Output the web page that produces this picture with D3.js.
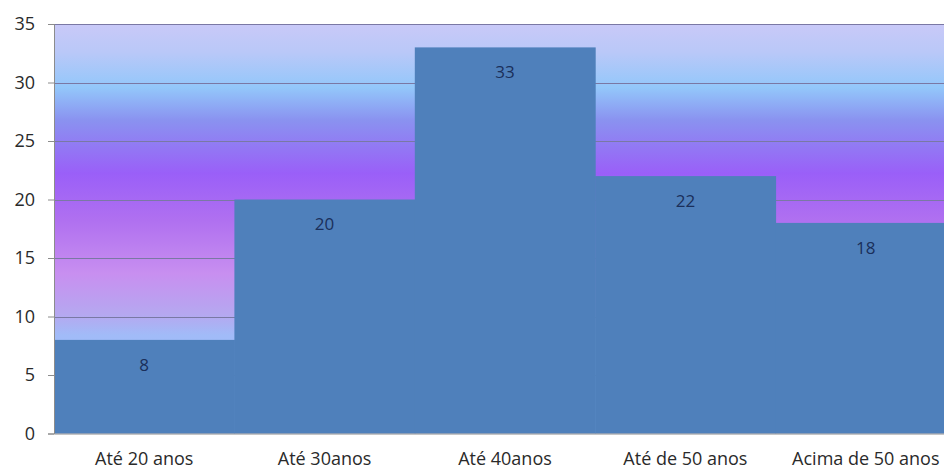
<!DOCTYPE html>
<html><head><meta charset="utf-8">
<script src="https://cdn.jsdelivr.net/npm/d3@7"></script>
<style>body{margin:0;background:#fff;overflow:hidden}svg{display:block}</style>
</head><body>
<script>
const categories = ["Até 20 anos", "Até 30anos", "Até 40anos", "Até de 50 anos", "Acima de 50 anos"];
const values = [8, 20, 33, 22, 18];
const yTicks = [0, 5, 10, 15, 20, 25, 30, 35];

const W = 944, H = 471;
const m = {left: 54, top: 24, right: 956, bottom: 433.5};
const FONT = "'Open Sans', Lato, sans-serif";
const svg = d3.select("body").append("svg").attr("width", W).attr("height", H);

const x = d3.scaleBand().domain(categories).range([m.left, m.right]).padding(0);
const y = d3.scaleLinear().domain([0, 35]).range([m.bottom, m.top]);

const defs = svg.append("defs");
const g = defs.append("linearGradient").attr("id", "bg").attr("x1", 0).attr("y1", 0).attr("x2", 0).attr("y2", 1);
[[0, "#c9c9f8"], [0.07, "#b9c8f8"], [0.155, "#93c7fa"], [0.235, "#8a92f0"], [0.365, "#9a5ff8"],
 [0.48, "#b070f0"], [0.61, "#c88ff0"], [0.71, "#b5a8f0"], [0.76, "#a1bbf8"], [1, "#9fc0ff"]]
 .forEach(([o, c]) => g.append("stop").attr("offset", o).attr("stop-color", c));

svg.append("rect").attr("x", m.left).attr("y", m.top).attr("width", m.right - m.left)
  .attr("height", m.bottom - m.top).attr("fill", "url(#bg)");

// gridlines
svg.append("g").selectAll("line").data(yTicks.filter(t => t > 0)).join("line")
  .attr("x1", m.left).attr("x2", m.right).attr("y1", d => Math.round(y(d)) + 0.5).attr("y2", d => Math.round(y(d)) + 0.5)
  .attr("stroke", "#7a78a4").attr("stroke-width", 1);

// bars
svg.append("g").selectAll("rect").data(values).join("rect")
  .attr("x", (d, i) => x(categories[i])).attr("width", x.bandwidth() + 0.5)
  .attr("y", d => y(d)).attr("height", d => y(0) - y(d))
  .attr("fill", "#4f80bb");

// data labels
svg.append("g").selectAll("text").data(values).join("text")
  .attr("x", (d, i) => x(categories[i]) + x.bandwidth() / 2)
  .attr("y", d => y(d) + 25).attr("dy", "0.35em")
  .attr("text-anchor", "middle").attr("font-family", FONT)
  .attr("font-size", 17).attr("fill", "#1a2f5a").text(d => d);

// y axis
const ya = svg.append("g").attr("transform", `translate(${m.left},0)`)
  .call(d3.axisLeft(y).tickValues(yTicks).tickSize(6).tickPadding(13));
ya.select(".domain").attr("stroke", "#8c8c8c");
ya.selectAll(".tick line").attr("stroke", "#8c8c8c");
ya.selectAll("text").attr("font-family", FONT).attr("font-size", 18).attr("fill", "#2a2a2a");

// x axis
const xa = svg.append("g").attr("transform", `translate(0,${m.bottom})`)
  .call(d3.axisBottom(x).tickSize(0).tickPadding(19));
xa.select(".domain").attr("stroke", "#8c8c8c");
xa.selectAll("text").attr("font-family", FONT).attr("font-size", 18).attr("fill", "#2a2a2a");
</script>
</body></html>
